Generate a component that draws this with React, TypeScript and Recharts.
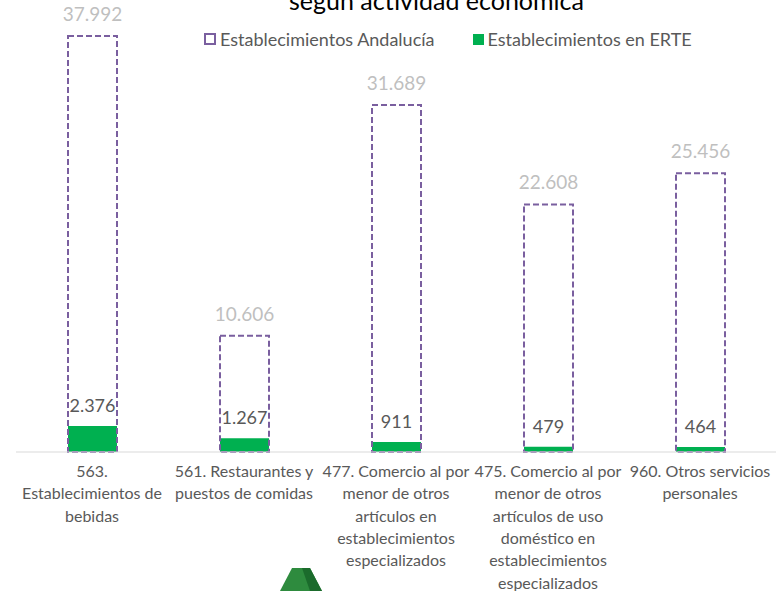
import React from 'react';
import { BarChart, Bar, XAxis, YAxis, LabelList } from 'recharts';

const categories = [
  '563.\nEstablecimientos de\nbebidas',
  '561. Restaurantes y\npuestos de comidas',
  '477. Comercio al por\nmenor de otros\nartículos en\nestablecimientos\nespecializados',
  '475. Comercio al por\nmenor de otros\nartículos de uso\ndoméstico en\nestablecimientos\nespecializados',
  '960. Otros servicios\npersonales',
];
const andalucia = [37992, 10606, 31689, 22608, 25456];
const erte = [2376, 1267, 911, 479, 464];

const data = categories.map((name, i) => ({ name, andalucia: andalucia[i], erte: erte[i] }));

const FONT = 'Lato, "Open Sans", sans-serif';
const PURPLE = '#7a5f9f';
const GREEN = '#00b050';

const fmt = (v: any) => String(v).replace(/\B(?=(\d{3})+(?!\d))/g, '.');

const Tick = (props: any) => {
  const { x, y, payload } = props;
  const lines = String(payload.value).split('\n');
  return (
    <text x={x} y={y + 17} textAnchor="middle" fill="#595959" fontSize={16} fontFamily={FONT}>
      {lines.map((l, i) => (
        <tspan key={i} x={x} dy={i === 0 ? 0 : 22.3}>{l}</tspan>
      ))}
    </text>
  );
};

export default function App() {
  return (
    <div style={{ position: 'absolute', left: 0, top: 0, width: 776, height: 591, background: '#fff', overflow: 'hidden', fontFamily: FONT }}>
      <div style={{ position: 'absolute', left: 289, top: -15, fontSize: 25, color: '#000', whiteSpace: 'nowrap' }}>
        según actividad económica
      </div>
      <div style={{ position: 'absolute', left: 204, top: 28, fontSize: 18, color: '#595959', whiteSpace: 'nowrap', display: 'flex', alignItems: 'center' }}>
        <span style={{ width: 8, height: 8, border: `2px dashed ${PURPLE}`, marginRight: 4 }} />
        Establecimientos Andalucía
        <span style={{ width: 11, height: 11, background: GREEN, marginLeft: 38, marginRight: 4 }} />
        Establecimientos en ERTE
      </div>
      <BarChart width={776} height={591} data={data} margin={{ top: 14, right: 0, left: 16, bottom: 0 }} barGap={-49} barSize={49}>
        <XAxis dataKey="name" height={139} interval={0} tickLine={false} axisLine={{ stroke: '#d9d9d9' }} tick={<Tick />} />
        <YAxis hide domain={[0, 40000]} />
        <Bar dataKey="erte" fill={GREEN} isAnimationActive={false}>
          <LabelList dataKey="erte" position="top" offset={14} formatter={fmt} fill="#595959" fontSize={18} fontFamily={FONT} />
        </Bar>
        <Bar dataKey="andalucia" fill="none" stroke={PURPLE} strokeWidth={2} strokeDasharray="6 3" isAnimationActive={false}>
          <LabelList dataKey="andalucia" position="top" offset={15} formatter={fmt} fill="#bfbfbf" fontSize={19} fontFamily={FONT} />
        </Bar>
      </BarChart>
      <svg style={{ position: 'absolute', left: 280, top: 568 }} width={42} height={23}>
        <polygon points="0,23 12,0 30,0 42,23" fill="#2e8b3e" />
        <polygon points="22,0 30,0 42,23 30,23" fill="#1b6b2c" />
      </svg>
    </div>
  );
}
